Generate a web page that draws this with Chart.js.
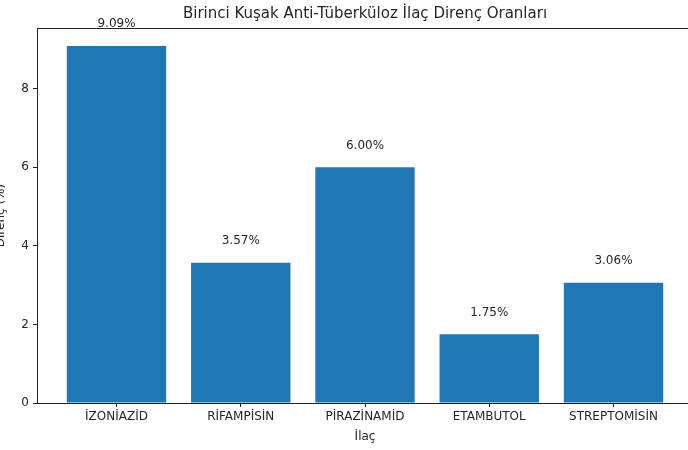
<!DOCTYPE html>
<html>
<head>
<meta charset="utf-8">
<script src="https://cdn.jsdelivr.net/npm/chart.js@4"></script>
<style>
  html, body { margin: 0; padding: 0; overflow: hidden; background: #fff; }
  #wrap { position: relative; width: 688px; height: 450px; overflow: hidden; }
  #chart { position: absolute; left: -12px; top: 0; }
</style>
</head>
<body>
<div id="wrap"><canvas id="chart" width="712" height="450"></canvas></div>
<script>
const drugs = ['İZONİAZİD', 'RİFAMPİSİN', 'PİRAZİNAMİD', 'ETAMBUTOL', 'STREPTOMİSİN'];
const resistance = [9.09, 3.57, 6.00, 1.75, 3.06];
const yTicks = [0, 2, 4, 6, 8];
const titleText = 'Birinci Kuşak Anti-Tüberküloz İlaç Direnç Oranları';

const FONT = 'DejaVu Sans';
const TXT = '#262626';

// frame around the plot area, like matplotlib spines
const frame = {
  id: 'frame',
  afterDatasetsDraw(chart) {
    const { ctx, chartArea: a } = chart;
    ctx.save();
    ctx.strokeStyle = '#222';
    ctx.lineWidth = 1;
    ctx.strokeRect(Math.round(a.left) + 0.5, Math.round(a.top) + 0.5, Math.round(a.right - a.left), Math.round(a.bottom - a.top));
    ctx.restore();
  }
};

// title centred over the plot area (matplotlib style) + value labels above bars
const texts = {
  id: 'texts',
  afterDatasetsDraw(chart) {
    const { ctx, scales, chartArea: a } = chart;
    ctx.save();
    ctx.fillStyle = TXT;
    ctx.textAlign = 'center';
    ctx.textBaseline = 'middle';
    ctx.font = '15px "' + FONT + '"';
    ctx.fillText(titleText, (a.left + a.right) / 2, 14);
    ctx.font = '12px "' + FONT + '"';
    ctx.textBaseline = 'bottom';
    resistance.forEach((v, i) => {
      ctx.fillText(v.toFixed(2) + '%', scales.x.getPixelForValue(i), scales.y.getPixelForValue(v + 0.5) + 4);
    });
    ctx.restore();
  }
};

new Chart(document.getElementById('chart'), {
  type: 'bar',
  data: {
    datasets: [{
      data: resistance.map((v, i) => ({ x: i, y: v })),
      backgroundColor: '#1f77b4',
      barPercentage: 0.8,
      categoryPercentage: 1.0
    }]
  },
  options: {
    responsive: false,
    animation: false,
    layout: { padding: { left: 0, right: 7, top: 28, bottom: 0 } },
    plugins: {
      legend: { display: false },
      tooltip: { enabled: false },
      title: { display: false }
    },
    scales: {
      x: {
        type: 'linear',
        offset: false,
        min: -0.64,
        max: 4.64,
        afterBuildTicks: s => { s.ticks = drugs.map((d, i) => ({ value: i })); },
        afterFit: s => { s.height = 47; },
        grid: { display: true, drawOnChartArea: false, tickLength: 4, color: '#222', offset: false },
        border: { display: false },
        ticks: {
          color: TXT,
          font: { family: FONT, size: 12 },
          padding: 3,
          maxRotation: 0,
          autoSkip: false,
          callback: v => drugs[v]
        },
        title: {
          display: true,
          text: 'İlaç',
          color: TXT,
          font: { family: FONT, size: 12 },
          padding: { top: 0, bottom: 6 }
        }
      },
      y: {
        min: 0,
        max: 9.545,
        afterBuildTicks: s => { s.ticks = yTicks.map(v => ({ value: v })); },
        afterFit: s => { s.width = 49; },
        grid: { display: true, drawOnChartArea: false, tickLength: 4, color: '#222' },
        border: { display: false },
        ticks: {
          color: TXT,
          font: { family: FONT, size: 12 },
          padding: 4
        },
        title: {
          display: true,
          text: 'Direnç (%)',
          color: TXT,
          font: { family: FONT, size: 12 },
          padding: { top: 6, bottom: 0 }
        }
      }
    }
  },
  plugins: [frame, texts]
});
</script>
</body>
</html>
